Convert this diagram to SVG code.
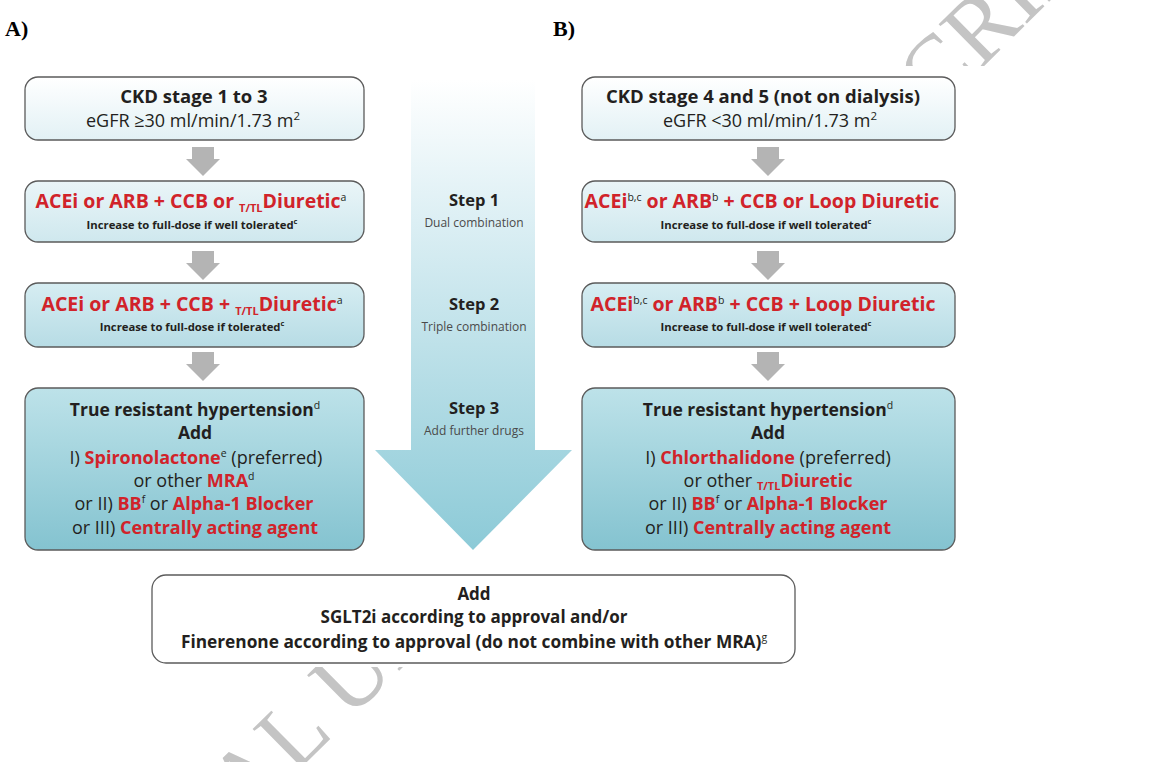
<svg xmlns="http://www.w3.org/2000/svg" width="1170" height="762" viewBox="0 0 1170 762">
<style>
text{font-family:"Open Sans","Noto Sans",sans-serif;fill:#231f20;text-anchor:middle}
.b{font-weight:700}
.r{fill:#d1232a;font-weight:700}
.h{font-size:17.5px}
.m{font-size:18px}
.big{font-size:19.5px}
.s{font-size:11.3px;font-weight:700}
.sp{font-size:10.5px;font-weight:400;fill:#231f20}
.sb{font-size:11px}
.box{stroke:#5b5b5b;stroke-width:1.3}
.step{font-size:16.5px;font-weight:700}
.stepd{font-size:12px;fill:#4a4a4a}
.wm{font-family:"Liberation Serif",serif;font-size:94px;fill:#c4c4c4;text-anchor:start}
.lab{font-family:"Liberation Serif",serif;font-weight:700;font-size:22px;text-anchor:start;fill:#000}
.ga{fill:#b4b4b4}
</style>
<defs>
<linearGradient id="g1" x1="0" y1="0" x2="0" y2="1"><stop offset="0" stop-color="#ffffff"/><stop offset="1" stop-color="#e2f1f5"/></linearGradient>
<linearGradient id="g2" x1="0" y1="0" x2="0" y2="1"><stop offset="0" stop-color="#eaf5f8"/><stop offset="1" stop-color="#cfe8ee"/></linearGradient>
<linearGradient id="g3" x1="0" y1="0" x2="0" y2="1"><stop offset="0" stop-color="#d6edf2"/><stop offset="1" stop-color="#b7dce5"/></linearGradient>
<linearGradient id="g4" x1="0" y1="0" x2="0" y2="1"><stop offset="0" stop-color="#bde2e9"/><stop offset="1" stop-color="#84c3d0"/></linearGradient>
<linearGradient id="gbig" gradientUnits="userSpaceOnUse" x1="0" y1="80" x2="0" y2="550"><stop offset="0" stop-color="#ffffff"/><stop offset="0.3" stop-color="#dceff4"/><stop offset="1" stop-color="#8ccad7"/></linearGradient>
<path id="garrow" d="M-11,0 H11 V12 H17 L0,29 L-17,12 H-11 Z"/>
<clipPath id="wmclip"><rect x="0" y="0" width="1170" height="66"/><rect x="0" y="667" width="1170" height="95"/></clipPath>
</defs>

<g id="watermark" clip-path="url(#wmclip)">
<text class="wm" transform="translate(12,1054) rotate(-44.7)">ORIGINAL UNEDITED</text>
<text class="wm" transform="translate(694,353) rotate(-44.7)">MANUSCRIPT</text>
</g>

<text class="lab" x="5" y="36">A)</text>
<text class="lab" x="553" y="36">B)</text>

<g id="connectors">
<use href="#garrow" class="ga" x="203" y="147"/>
<use href="#garrow" class="ga" x="203" y="251"/>
<use href="#garrow" class="ga" x="203" y="352"/>
<use href="#garrow" class="ga" x="768" y="147"/>
<use href="#garrow" class="ga" x="768" y="251"/>
<use href="#garrow" class="ga" x="768" y="352"/>
</g>

<g id="steps">
<path d="M411,80 H535 V450 H572 L473,550 L375,450 H411 Z" fill="url(#gbig)"/>
<text class="step" x="474" y="206">Step 1</text>
<text class="stepd" x="474" y="227">Dual combination</text>
<text class="step" x="474" y="310">Step 2</text>
<text class="stepd" x="474" y="331">Triple combination</text>
<text class="step" x="474" y="414">Step 3</text>
<text class="stepd" x="474" y="435">Add further drugs</text>
</g>

<g id="a1">
<rect class="box" x="25" y="77" width="339" height="63" rx="13" fill="url(#g1)"/>
<text class="b" font-size="18.5" x="194" y="103">CKD stage 1 to 3</text>
<text class="m" x="193" y="127">eGFR ≥30 ml/min/1.73 m<tspan font-size="11.5" baseline-shift="super">2</tspan></text>
</g>
<g id="a2">
<rect class="box" x="25" y="181" width="339" height="61" rx="13" fill="url(#g2)"/>
<text class="big" x="191" y="208"><tspan class="r">ACEi or ARB + CCB or </tspan><tspan class="r sb" baseline-shift="-4">T/TL</tspan><tspan class="r">Diuretic</tspan><tspan class="sp" baseline-shift="super">a</tspan></text>
<text class="s" x="192" y="229">Increase to full-dose if well tolerated<tspan font-size="7.5" baseline-shift="super">c</tspan></text>
</g>
<g id="a3">
<rect class="box" x="25" y="283" width="339" height="64" rx="13" fill="url(#g3)"/>
<text class="big" x="192" y="311"><tspan class="r">ACEi or ARB + CCB + </tspan><tspan class="r sb" baseline-shift="-4">T/TL</tspan><tspan class="r">Diuretic</tspan><tspan class="sp" baseline-shift="super">a</tspan></text>
<text class="s" x="192" y="331">Increase to full-dose if tolerated<tspan font-size="7.5" baseline-shift="super">c</tspan></text>
</g>
<g id="a4">
<rect class="box" x="25" y="388" width="339" height="162" rx="13" fill="url(#g4)"/>
<text class="b h" x="195" y="416">True resistant hypertension<tspan class="sp" baseline-shift="super">d</tspan></text>
<text class="b h" x="195" y="439">Add</text>
<text class="m" x="196" y="464">I) <tspan class="r">Spironolactone</tspan><tspan class="sp" baseline-shift="super">e</tspan> (preferred)</text>
<text class="m" x="194" y="487">or other <tspan class="r">MRA</tspan><tspan class="sp" baseline-shift="super">d</tspan></text>
<text class="m" x="194" y="510">or II) <tspan class="r">BB</tspan><tspan class="sp" baseline-shift="super">f</tspan> or <tspan class="r">Alpha-1 Blocker</tspan></text>
<text class="m" x="195" y="534">or III) <tspan class="r">Centrally acting agent</tspan></text>
</g>

<g id="b1">
<rect class="box" x="582" y="77" width="373" height="63" rx="13" fill="url(#g1)"/>
<text class="b" font-size="18.5" x="763" y="103">CKD stage 4 and 5 (not on dialysis)</text>
<text class="m" x="770" y="127">eGFR &lt;30 ml/min/1.73 m<tspan font-size="11.5" baseline-shift="super">2</tspan></text>
</g>
<g id="b2">
<rect class="box" x="582" y="181" width="373" height="61" rx="13" fill="url(#g2)"/>
<text class="big" x="762" y="208"><tspan class="r">ACEi</tspan><tspan class="sp" baseline-shift="super">b,c</tspan><tspan class="r"> or ARB</tspan><tspan class="sp" baseline-shift="super">b</tspan><tspan class="r"> + CCB or Loop Diuretic</tspan></text>
<text class="s" x="766" y="229">Increase to full-dose if well tolerated<tspan font-size="7.5" baseline-shift="super">c</tspan></text>
</g>
<g id="b3">
<rect class="box" x="582" y="283" width="373" height="64" rx="13" fill="url(#g3)"/>
<text class="big" x="763" y="311"><tspan class="r">ACEi</tspan><tspan class="sp" baseline-shift="super">b,c</tspan><tspan class="r"> or ARB</tspan><tspan class="sp" baseline-shift="super">b</tspan><tspan class="r"> + CCB + Loop Diuretic</tspan></text>
<text class="s" x="766" y="331">Increase to full-dose if well tolerated<tspan font-size="7.5" baseline-shift="super">c</tspan></text>
</g>
<g id="b4">
<rect class="box" x="582" y="388" width="373" height="162" rx="13" fill="url(#g4)"/>
<text class="b h" x="768" y="416">True resistant hypertension<tspan class="sp" baseline-shift="super">d</tspan></text>
<text class="b h" x="768" y="439">Add</text>
<text class="m" x="768" y="464">I) <tspan class="r">Chlorthalidone</tspan> (preferred)</text>
<text class="m" x="768" y="487">or other <tspan class="r sb" baseline-shift="-3">T/TL</tspan><tspan class="r">Diuretic</tspan></text>
<text class="m" x="768" y="510">or II) <tspan class="r">BB</tspan><tspan class="sp" baseline-shift="super">f</tspan> or <tspan class="r">Alpha-1 Blocker</tspan></text>
<text class="m" x="768" y="534">or III) <tspan class="r">Centrally acting agent</tspan></text>
</g>

<g id="c1">
<rect class="box" x="152" y="575" width="643" height="88" rx="14" fill="#ffffff"/>
<text class="b" font-size="17" x="474" y="600">Add</text>
<text class="b" font-size="17" x="474" y="623">SGLT2i according to approval and/or</text>
<text class="b" font-size="17.3" x="474" y="648">Finerenone according to approval (do not combine with other MRA)<tspan class="sp" baseline-shift="super">g</tspan></text>
</g>
</svg>
